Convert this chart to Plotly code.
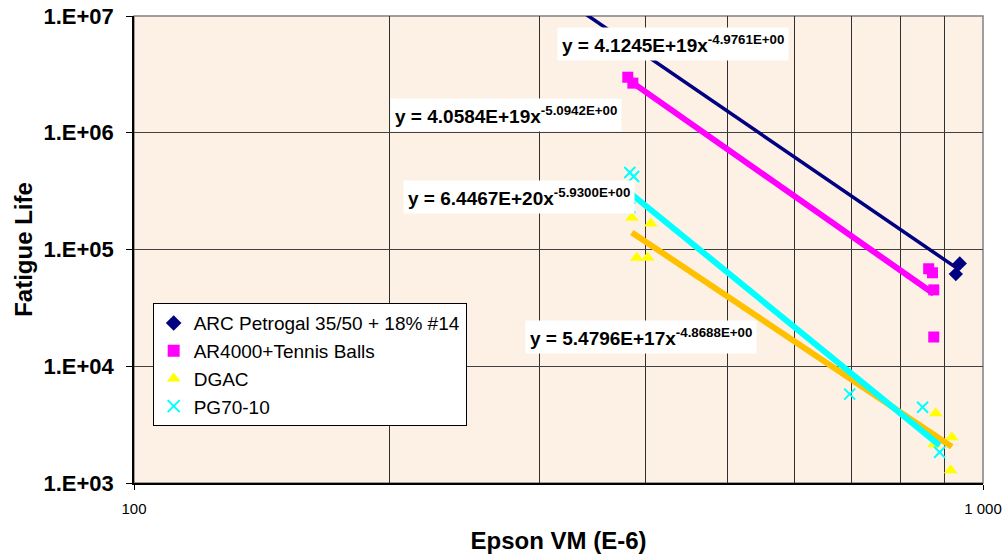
import numpy as np
import plotly.graph_objects as go

# Measured fatigue data: strain (Epson VM, E-6) vs fatigue life
arc_x = [939, 929]
arc_y = [76000, 61600]

ar4000_x = [381.6, 386.9, 863, 872, 875, 875]
ar4000_y = [2.99e6, 2.66e6, 68400, 63200, 45100, 17800]

dgac_x = [385.8, 406.1, 391.0, 402.7, 879.6, 919, 916, 876]
dgac_y = [187500, 166700, 85100, 85100, 3963, 2466, 1283, 2150]

pg_x = [383.7, 387.8, 383.7, 696.6, 848.9, 889]
pg_y = [457000, 421700, 228600, 5770, 4460, 1832]

# Power-law trendlines y = a * x^b and the x span each one covers
fit_names = ["ARC", "AR4000", "DGAC", "PG70-10"]
fit_a = [4.1245e19, 4.0584e19, 5.4796e17, 6.4467e20]
fit_b = [-4.9761, -5.0942, -4.8688, -5.9300]
fit_xmin = [340, 381.6, 385.8, 383.7]
fit_xmax = [939, 875, 919, 889]
fit_colors = ["#000080", "#FF00FF", "#FFC000", "#00FFFF"]
fit_widths = [3.5, 6, 6, 6]

# Equation label placement (paper coordinates, left-anchored)
label_x = [0.498, 0.301, 0.460, 0.3165]
label_y = [0.940, 0.788, 0.312, 0.612]

y_ticks = [1e3, 1e4, 1e5, 1e6, 1e7]
y_ticktext = ["1.E+03", "1.E+04", "1.E+05", "1.E+06", "1.E+07"]
x_ticks = [100, 1000]
x_ticktext = ["100", "1 000"]
x_minor = [200, 300, 400, 500, 600, 700, 800, 900]

FONT = "Liberation Sans, Arial, sans-serif"

fig = go.Figure()

fig.add_trace(go.Scatter(x=arc_x, y=arc_y, mode="markers", name="ARC Petrogal 35/50 + 18% #14",
                         marker=dict(symbol="diamond", size=11, color="#000080")))
fig.add_trace(go.Scatter(x=ar4000_x, y=ar4000_y, mode="markers", name="AR4000+Tennis Balls",
                         marker=dict(symbol="square", size=11, color="#FF00FF")))
fig.add_trace(go.Scatter(x=dgac_x, y=dgac_y, mode="markers", name="DGAC",
                         marker=dict(symbol="triangle-up", size=12, color="#FFFF00")))
fig.add_trace(go.Scatter(x=pg_x, y=pg_y, mode="markers", name="PG70-10",
                         marker=dict(symbol="x-thin", size=11, color="#00FFFF",
                                     line=dict(color="#00FFFF", width=2))))

for a, b, x0, x1, c, w in zip(fit_a, fit_b, fit_xmin, fit_xmax, fit_colors, fit_widths):
    xs = np.logspace(np.log10(x0), np.log10(x1), 60)
    fig.add_trace(go.Scatter(x=xs, y=a * xs ** b, mode="lines", showlegend=False,
                             line=dict(color=c, width=w), hoverinfo="skip"))

for a, b, lx, ly in zip(fit_a, fit_b, label_x, label_y):
    fig.add_annotation(xref="paper", yref="paper", x=lx, y=ly, xanchor="left", yanchor="middle",
                       text=f"<b>y = {a:.4E}x<sup>{b:.4E}</sup></b>", showarrow=False,
                       bgcolor="white", borderpad=4,
                       font=dict(family=FONT, size=19, color="black"))

# plot-area frame (grey on top/right)
fig.add_shape(type="rect", xref="paper", yref="paper", x0=0, y0=0, x1=1, y1=1,
              line=dict(color="#808080", width=1.5), layer="below")

fig.update_layout(
    width=1007, height=556,
    margin=dict(l=134, r=24, t=16, b=73),
    paper_bgcolor="white",
    plot_bgcolor="#FDF1E6",
    font=dict(family=FONT, color="black"),
    showlegend=True,
    legend=dict(x=0.022, y=0.385, xanchor="left", yanchor="top",
                bgcolor="white", bordercolor="black", borderwidth=1,
                font=dict(family=FONT, size=19, color="black"),
                itemsizing="constant", tracegroupgap=0),
)

fig.update_xaxes(type="log", range=[2, 3], automargin=False,
                 tickvals=x_ticks, ticktext=x_ticktext,
                 tickfont=dict(family=FONT, size=15, color="black"),
                 ticks="outside", ticklen=5, tickcolor="black", ticklabelstandoff=6,
                 showgrid=False, showline=True, linecolor="black", linewidth=1.5,
                 minor=dict(tickvals=x_minor, showgrid=True, gridcolor="#303030", gridwidth=1, ticks=""),
                 title=dict(text="<b>Epson VM (E-6)</b>", font=dict(family=FONT, size=24, color="black"),
                            standoff=16),
                 zeroline=False)

fig.update_yaxes(type="log", range=[3, 7], automargin=False,
                 tickvals=y_ticks, ticktext=[f"<b>{t}</b>" for t in y_ticktext],
                 tickfont=dict(family=FONT, size=22, color="black"),
                 ticks="outside", ticklen=6, tickcolor="black", ticklabelstandoff=8,
                 showgrid=True, gridcolor="#404040", gridwidth=1,
                 showline=True, linecolor="black", linewidth=1.5,
                 title=dict(text="<b>Fatigue Life</b>", font=dict(family=FONT, size=24, color="black"),
                            standoff=4),
                 zeroline=False)

fig.update_xaxes(tickprefix="<b>", ticksuffix="</b>")

fig.write_html("out.html")
